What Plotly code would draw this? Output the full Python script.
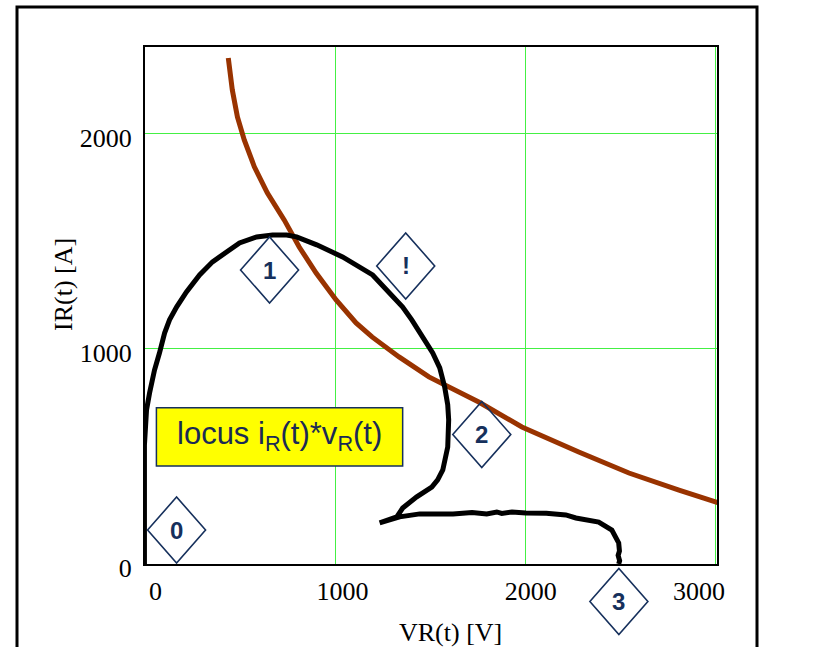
import plotly.graph_objects as go

# ---------------- data ----------------
locus_v = [-66, -3, -3, 8, 24, 50, 76, 103, 129, 166, 218, 287, 355, 429, 497, 587,
           671, 745, 797, 903, 1039, 1197, 1287, 1355, 1403, 1445, 1482, 1513, 1550,
           1576, 1592, 1597, 1592, 1566, 1539, 1508, 1429, 1355, 1324, 1234, 1339,
           1445, 1620, 1720, 1797, 1850, 1876, 1930, 2003, 2110, 2213, 2266, 2386,
           2455, 2491, 2495, 2488, 2496, 2491]
locus_i = [-70, -70, 553, 716, 795, 902, 981, 1074, 1135, 1195, 1265, 1344, 1405,
           1451, 1493, 1521, 1530, 1530, 1521, 1484, 1428, 1344, 1260, 1195, 1135,
           1074, 1028, 981, 912, 823, 740, 670, 544, 437, 391, 358, 312, 260, 219,
           191, 219, 233, 233, 240, 233, 242, 235, 242, 237, 236, 228, 214, 195, 158,
           98, 60, 40, 15, 0]

limit_v = [438, 459, 486, 522, 575, 643, 732, 811, 900, 1005, 1110, 1194, 1336,
           1493, 1755, 1982, 2281, 2545, 2808, 3018]
limit_i = [2353, 2205, 2079, 1972, 1847, 1726, 1600, 1474, 1353, 1228, 1121, 1056,
           963, 870, 753, 637, 521, 423, 344, 284]

x_ticks = [0, 1000, 2000, 3000]
x_tick_text = ["0", "1000", "2000", "3000"]
x_label_offset = [55, 39, 29, -87]   # Mathcad-style placement of the x tick labels
y_ticks = [0, 1000, 2000]
y_tick_text = ["0", "1000", "2000"]

marker_labels = ["0", "1", "!", "2", "3"]
marker_v = [166, 655, 1371, 1771, 2492]
marker_i = [158, 1367, 1386, 602, -174]

X_RANGE = [0, 3008]
Y_RANGE = [0, 2404]

# ---------------- figure ----------------
fig = go.Figure()
fig.add_trace(go.Scatter(x=limit_v, y=limit_i, mode="lines",
                         line=dict(color="#993300", width=5), hoverinfo="skip"))
fig.add_trace(go.Scatter(x=locus_v, y=locus_i, mode="lines",
                         line=dict(color="#000000", width=5), hoverinfo="skip"))
# invisible trace on the label axis so it is drawn
fig.add_trace(go.Scatter(x=[X_RANGE[0]], y=[Y_RANGE[0]], xaxis="x2", mode="markers",
                         marker=dict(opacity=0), hoverinfo="skip"))

ML, MR, MT, MB = 145, 112, 47, 83
PW, PH = 829 - ML - MR, 647 - MT - MB  # plot area in px
X0PX, Y0PX = ML, 647 - MB


def to_paper(v, i):
    return ((v - X_RANGE[0]) / (X_RANGE[1] - X_RANGE[0]),
            (i - Y_RANGE[0]) / (Y_RANGE[1] - Y_RANGE[0]))


navy = "#16305c"
hw, hh = 29 / PW, 33 / PH
shapes = []
annotations = []
for lab, v, i in zip(marker_labels, marker_v, marker_i):
    px, py = to_paper(v, i)
    shapes.append(dict(type="path", xref="paper", yref="paper",
                       path=f"M {px-hw} {py} L {px} {py+hh} L {px+hw} {py} L {px} {py-hh} Z",
                       line=dict(color=navy, width=1.6), fillcolor="rgba(0,0,0,0)"))
    annotations.append(dict(x=px, y=py, xref="paper", yref="paper", text=f"<b>{lab}</b>",
                            showarrow=False, font=dict(family="Arial, Liberation Sans", size=24, color=navy),
                            xanchor="center", yanchor="middle"))

# yellow label box
shapes.append(dict(type="rect", xref="x", yref="y", x0=60, x1=1355, y0=456, y1=726,
                   fillcolor="#ffff00", line=dict(color=navy, width=1.5), layer="above"))
annotations.append(dict(x=708, y=596, xref="x", yref="y",
                        text="locus i<sub>R</sub>(t)*v<sub>R</sub>(t)", showarrow=False,
                        font=dict(family="Arial, Liberation Sans", size=31, color="#1a2a55"),
                        xanchor="center", yanchor="middle"))

# outer frame (left, top, right)
L = (17 - X0PX) / PW
R = (757 - X0PX) / PW
T = (Y0PX - 7) / PH
B = (Y0PX - 700) / PH
shapes.append(dict(type="path", xref="paper", yref="paper",
                   path=f"M {L} {B} L {L} {T} L {R} {T} L {R} {B}",
                   line=dict(color="black", width=3)))

# axis titles
serif = "Liberation Serif, Times New Roman, serif"
annotations.append(dict(x=(450 - X0PX) / PW, y=(Y0PX - 632) / PH, xref="paper", yref="paper",
                        text="VR(t) [V]", showarrow=False,
                        font=dict(family=serif, size=26, color="black"),
                        xanchor="center", yanchor="middle"))
annotations.append(dict(x=(63 - X0PX) / PW, y=(Y0PX - 285) / PH, xref="paper", yref="paper",
                        text="IR(t) [A]", showarrow=False, textangle=-90,
                        font=dict(family=serif, size=26, color="black"),
                        xanchor="center", yanchor="middle"))

grid = "#44f044"
tickfont = dict(family=serif, size=26, color="black")
fig.update_layout(
    width=829, height=647,
    margin=dict(l=ML, r=MR, t=MT, b=MB, autoexpand=False),
    paper_bgcolor="white", plot_bgcolor="white",
    showlegend=False,
    shapes=shapes, annotations=annotations,
    xaxis=dict(range=X_RANGE, tickvals=x_ticks, showticklabels=False,
               showgrid=True, gridcolor=grid, gridwidth=1, zeroline=False,
               showline=True, linecolor="black", linewidth=2, mirror=True, ticks=""),
    xaxis2=dict(range=X_RANGE, overlaying="x", side="bottom", anchor="y",
                tickvals=[v + o for v, o in zip(x_ticks, x_label_offset)],
                ticktext=x_tick_text, showgrid=False, zeroline=False, showline=False,
                ticks="", ticklabelstandoff=9, tickfont=tickfont),
    yaxis=dict(range=Y_RANGE, tickvals=y_ticks, ticktext=y_tick_text,
               showgrid=True, gridcolor=grid, gridwidth=1, zeroline=False,
               showline=True, linecolor="black", linewidth=2, mirror=True,
               ticks="", ticklabelshift=4, ticklabelstandoff=6, tickfont=tickfont),
)

fig.write_html("out.html")
